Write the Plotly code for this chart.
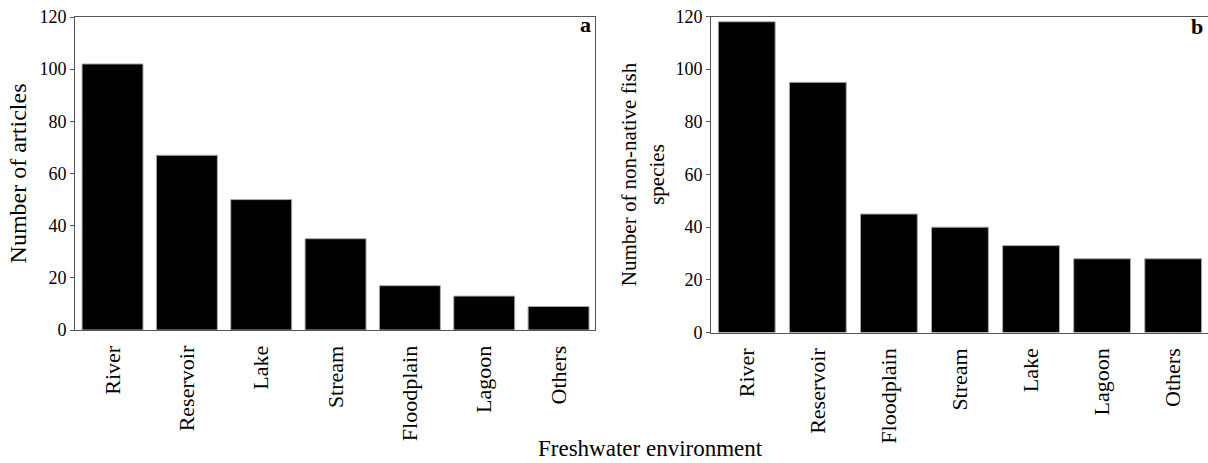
import plotly.graph_objects as go

cats_a = ["River", "Reservoir", "Lake", "Stream", "Floodplain", "Lagoon", "Others"]
vals_a = [102, 67, 50, 35, 17, 13, 9]
cats_b = ["River", "Reservoir", "Floodplain", "Stream", "Lake", "Lagoon", "Others"]
vals_b = [118, 95, 45, 40, 33, 28, 28]
yticks = [0, 20, 40, 60, 80, 100, 120]

FONT = "Liberation Serif"
AX = "#555555"
W, H = 1208, 463

fig = go.Figure()
fig.add_trace(go.Bar(x=cats_a, y=vals_a, xaxis="x", yaxis="y",
                     marker=dict(color="black", line=dict(color="#aaaaaa", width=1)),
                     width=0.82, showlegend=False))
fig.add_trace(go.Bar(x=cats_b, y=vals_b, xaxis="x2", yaxis="y2",
                     marker=dict(color="black", line=dict(color="#aaaaaa", width=1)),
                     width=0.8, showlegend=False))

def ya(top, bot):
    return [1 - bot / H, 1 - top / H]

common_x = dict(type="category", showgrid=False, zeroline=False, showline=True,
                linecolor=AX, linewidth=1, ticks="", tickangle=-90,
                tickfont=dict(family=FONT, size=22, color="black"),
                ticklabelstandoff=6, automargin=False)
common_y = dict(range=[0, 120], tickvals=yticks, showgrid=False, zeroline=False,
                showline=True, linecolor=AX, linewidth=1, ticks="outside",
                ticklen=4, tickcolor=AX, automargin=False,
                tickfont=dict(family=FONT, size=18, color="black"))

fig.update_layout(
    width=W, height=H,
    margin=dict(l=0, r=0, t=0, b=0, autoexpand=False),
    plot_bgcolor="white", paper_bgcolor="white",
    xaxis=dict(common_x, domain=[75 / W, 595 / W], range=[-0.505, 6.49],
               anchor="y", mirror=True),
    yaxis=dict(common_y, domain=ya(17, 330), anchor="x", mirror=True,
               title=dict(text="Number of articles", standoff=6,
                          font=dict(family=FONT, size=24, color="black"))),
    xaxis2=dict(common_x, domain=[711 / W, 1.0], range=[-0.503, 6.49],
                anchor="y2", mirror=True),
    yaxis2=dict(common_y, domain=ya(16.5, 332.5), anchor="x2", mirror=False,
                title=dict(text="Number of non-native fish<br>species", standoff=5,
                           font=dict(family=FONT, size=21, color="black"))),
    annotations=[
        dict(text="<b>a</b>", x=593 / W, y=1 - 25 / H, xref="paper", yref="paper",
             xanchor="right", yanchor="middle", showarrow=False,
             font=dict(family=FONT, size=22, color="black")),
        dict(text="<b>b</b>", x=1205 / W, y=1 - 26 / H, xref="paper", yref="paper",
             xanchor="right", yanchor="middle", showarrow=False,
             font=dict(family=FONT, size=22, color="black")),
        dict(text="Freshwater environment", x=650 / W, y=0,
             xref="paper", yref="paper", xanchor="center", yanchor="bottom",
             showarrow=False, font=dict(family=FONT, size=23, color="black")),
    ],
)

fig.write_html("out.html")
